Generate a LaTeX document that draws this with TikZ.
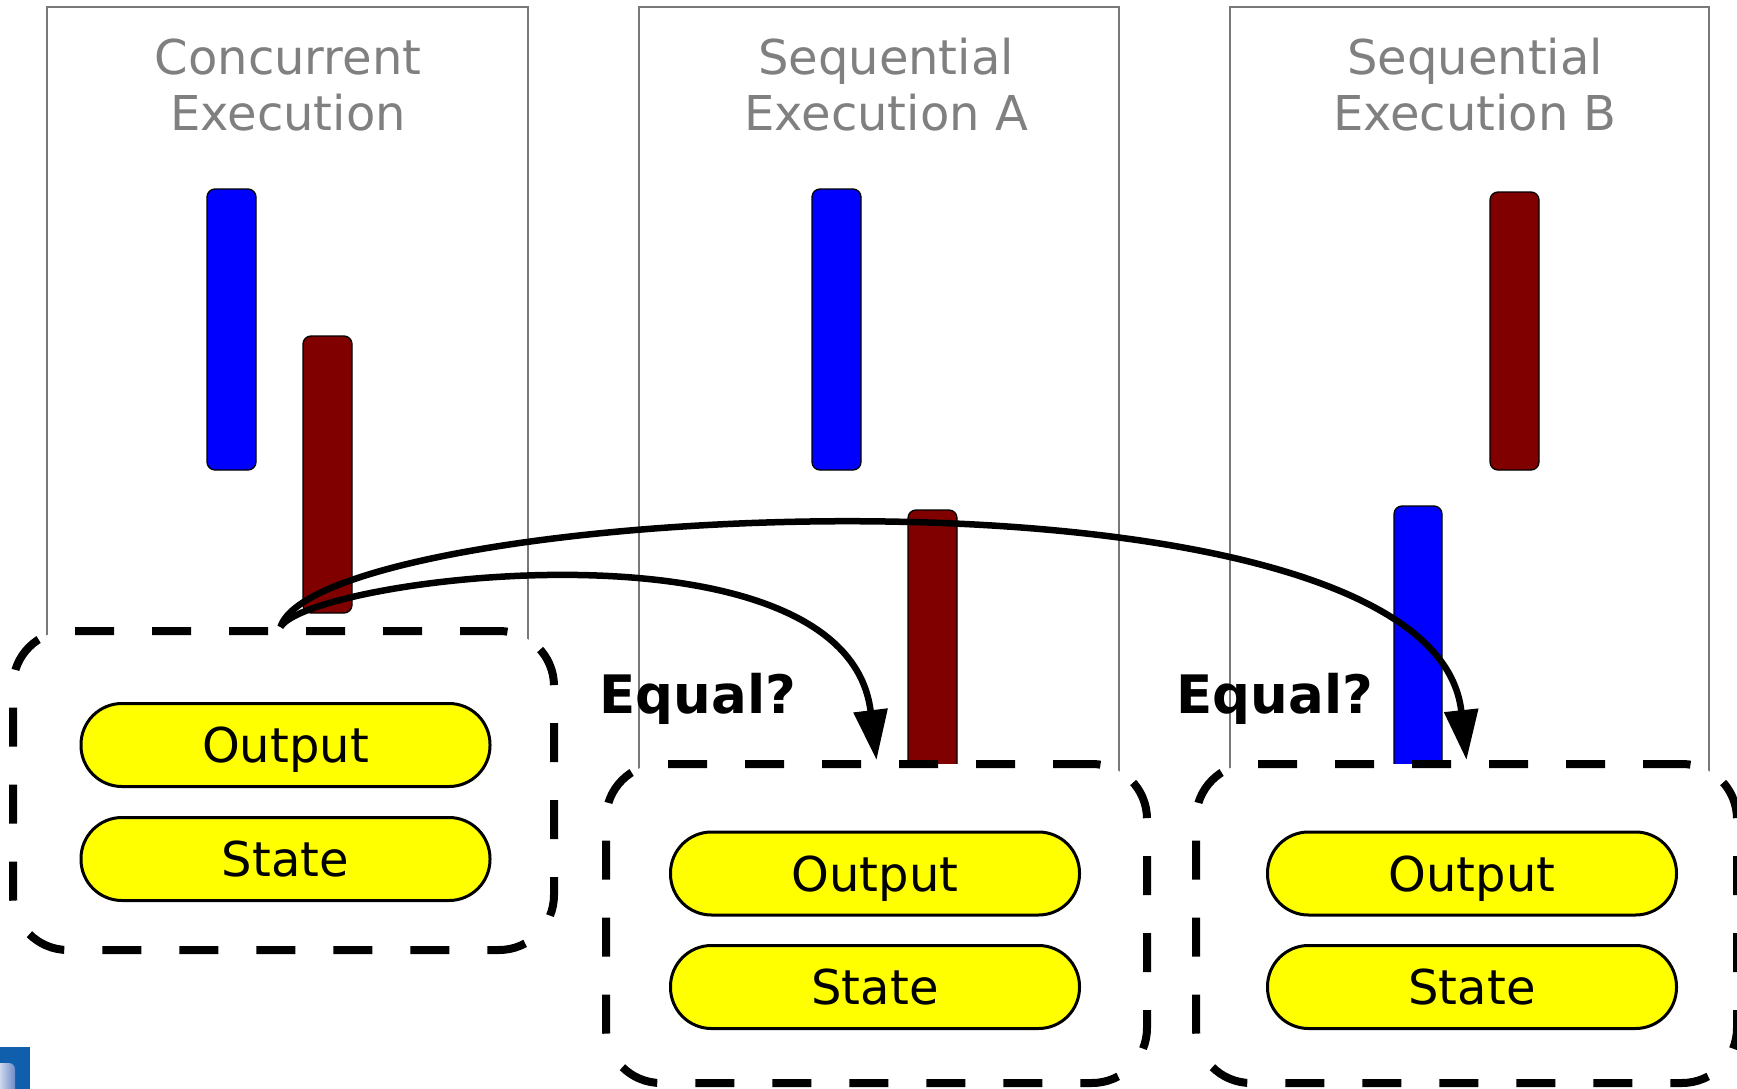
\documentclass[tikz,border=0pt]{standalone}
\usepackage{fontspec}
\setmainfont{DejaVu Sans}
\usetikzlibrary{arrows.meta}
\definecolor{titlegray}{RGB}{128,128,128}
\definecolor{panelgray}{RGB}{120,120,120}
\definecolor{barblue}{RGB}{0,0,255}
\definecolor{barred}{RGB}{128,0,0}
\definecolor{pillyellow}{RGB}{255,255,0}
\definecolor{iconblue}{RGB}{15,95,173}
\begin{document}
\begin{tikzpicture}[x=1pt,y=-1pt,
  panel/.style={draw=panelgray, line width=1.3pt},
  bluebar/.style={draw=black, fill=barblue, line width=1.3pt, rounded corners=8pt},
  redbar/.style={draw=black, fill=barred, line width=1.3pt, rounded corners=8pt},
  title/.style={text=titlegray, align=center, inner sep=0pt, font=\fontsize{48}{56}\selectfont},
  dbox/.style={draw=black, fill=white, line width=8pt, dash pattern=on 39pt off 38pt,
    rounded corners=55pt, minimum width=541pt, minimum height=319pt, inner sep=0pt},
  pill/.style={draw=black, fill=pillyellow, line width=3pt, rounded corners=41pt,
    minimum width=409pt, minimum height=83pt, inner sep=0pt, text depth=0pt,
    font=\fontsize{48}{56}\selectfont},
  eqlabel/.style={anchor=base, inner sep=0pt, font=\fontsize{53}{60}\selectfont\bfseries},
  conn/.style={line width=6.5pt, -{Triangle[length=50pt,width=33pt]}}
]
\useasboundingbox (0,0) rectangle (1737,1089);

% panels
\draw[panel] (47,7) rectangle (528,700);
\draw[panel] (639,7) rectangle (1119,850);
\draw[panel] (1230,7) rectangle (1709,850);

% titles
\node[title] (t1) at (288,85) {Concurrent\\Execution};
\node[title] (t2) at (886,85) {Sequential\\Execution A};
\node[title] (t3) at (1475,85) {Sequential\\Execution B};

% bars
\draw[bluebar] (207,189) rectangle (256,470);
\draw[redbar] (303,336) rectangle (352,613);
\draw[bluebar] (812,189) rectangle (861,470);
\draw[redbar] (908,510) rectangle (957,800);
\draw[redbar] (1490,192) rectangle (1539,470);
\draw[bluebar] (1394,506) rectangle (1442,800);

% dashed state boxes
\node[dbox] (box1) at (283.5,790.5) {};
\node[dbox] (box2) at (876.5,923.5) {};
\node[dbox] (box3) at (1466.5,923.5) {};

% pills
\node[pill] (out1) at (285.5,745) {Output};
\node[pill] (st1) at (285.5,859) {State};
\node[pill] (out2) at (875,873.5) {Output};
\node[pill] (st2) at (875,987) {State};
\node[pill] (out3) at (1472,873.5) {Output};
\node[pill] (st3) at (1472,987) {State};

% labels
\node[eqlabel] (eq1) at (698,713) {Equal?};
\node[eqlabel] (eq2) at (1275,713) {Equal?};

% connectors
\draw[conn] ([xshift=-3pt]box1.north) .. controls +(30,-50) and +(-30,-250) .. (box2.north);
\draw[conn] ([xshift=-3pt]box1.north) .. controls +(40,-125) and +(-34,-318) .. (box3.north);

% partial icon at bottom-left corner
\fill[iconblue] (0,1047) rectangle (30,1089);
\shade[left color=white, right color={rgb,255:red,110;green,140;blue,200}, rounded corners=6pt]
  (-8,1063) rectangle (15,1100);
\end{tikzpicture}
\end{document}
